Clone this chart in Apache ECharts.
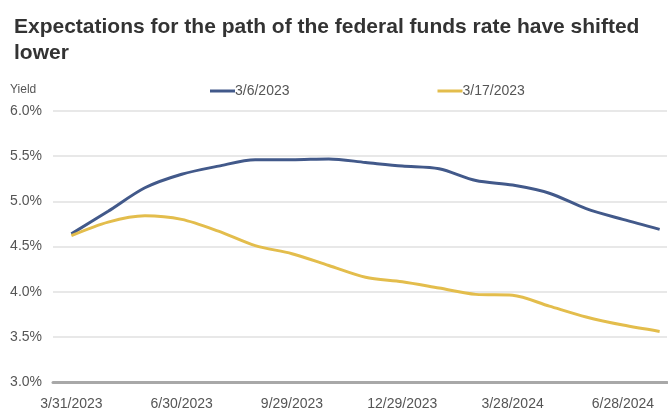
<!DOCTYPE html>
<html lang="en">
<head>
  <meta charset="UTF-8">
  <title>Fed funds path</title>
  <script src="https://cdn.jsdelivr.net/npm/echarts@6.0.0/dist/echarts.min.js"></script>
  <style>
    html, body {
      margin: 0;
      padding: 0;
      background: #fff;
    }

    #main {
      width: 668px;
      height: 416px;
    }
  </style>
</head>
<body>
  <div id="main"></div>

  <script type="text/javascript">
    // monthly points, first one is 3/31/2023
    var dates = [
      '3/31/2023', '4/28/2023', '5/31/2023', '6/30/2023', '7/31/2023', '8/31/2023',
      '9/29/2023', '10/31/2023', '11/30/2023', '12/29/2023', '1/31/2024', '2/29/2024',
      '3/28/2024', '4/30/2024', '5/31/2024', '6/28/2024', '7/31/2024'
    ]
    var march6 = [4.64, 4.89, 5.15, 5.30, 5.39, 5.46, 5.46, 5.47, 5.43, 5.39, 5.36,
      5.23, 5.18, 5.09, 4.92, 4.80, 4.69]
    var march17 = [4.62, 4.77, 4.84, 4.80, 4.67, 4.51, 4.42, 4.29, 4.16, 4.11, 4.04,
      3.97, 3.96, 3.84, 3.72, 3.63, 3.56]
    var labelIdx = [0, 3, 6, 9, 12, 15]

    function toPairs(arr) {
      return arr.map(function(v, i) { return [i, v] })
    }

    var font = '"Liberation Sans", Arial, sans-serif'

    var myChart = echarts.init(document.getElementById('main'))

    var option = {
      backgroundColor: '#fff',
      animation: false,
      title: {
        text: 'Expectations for the path of the federal funds rate have shifted\nlower',
        left: 9,
        top: 9,
        textStyle: {
          fontFamily: font,
          fontWeight: 'bold',
          fontSize: 21,
          lineHeight: 26,
          color: '#333'
        }
      },
      graphic: [{
        type: 'text',
        left: 10,
        top: 84,
        style: {
          text: 'Yield',
          font: '12px ' + font,
          fill: '#555'
        }
      }],
      legend: {
        left: 205,
        top: 79,
        itemWidth: 25,
        itemHeight: 3,
        itemGap: 148,
        icon: 'rect',
        textStyle: {
          fontFamily: font,
          fontSize: 14,
          color: '#555',
          padding: [0, 0, 0, -5]
        },
        data: ['3/6/2023', '3/17/2023']
      },
      grid: {
        left: 53,
        right: 1,
        top: 111,
        bottom: 34,
        containLabel: false
      },
      xAxis: {
        type: 'value',
        min: -0.5,
        max: 16.2,
        axisLine: { show: true, onZero: false, lineStyle: { color: '#a8a8a8', width: 3 } },
        axisTick: { show: false },
        splitLine: { show: false },
        axisLabel: {
          customValues: labelIdx,
          formatter: function(v) { return dates[v] },
          fontFamily: font,
          fontSize: 14,
          color: '#555',
          margin: 15
        }
      },
      yAxis: {
        type: 'value',
        min: 3,
        max: 6,
        interval: 0.5,
        axisLine: { show: false },
        axisTick: { show: false },
        splitLine: { lineStyle: { color: '#e8e8e8', width: 2 } },
        axisLabel: {
          formatter: function(v) { return v.toFixed(1) + '%' },
          fontFamily: font,
          fontSize: 14,
          color: '#555',
          margin: 11
        }
      },
      series: [
        {
          name: '3/6/2023',
          type: 'line',
          data: toPairs(march6),
          smooth: 0.3,
          symbol: 'none',
          lineStyle: { color: '#42598a', width: 3 },
          itemStyle: { color: '#42598a' }
        },
        {
          name: '3/17/2023',
          type: 'line',
          data: toPairs(march17),
          smooth: 0.3,
          symbol: 'none',
          lineStyle: { color: '#e3bd4c', width: 3 },
          itemStyle: { color: '#e3bd4c' }
        }
      ]
    }

    myChart.setOption(option)
  </script>
</body>
</html>
